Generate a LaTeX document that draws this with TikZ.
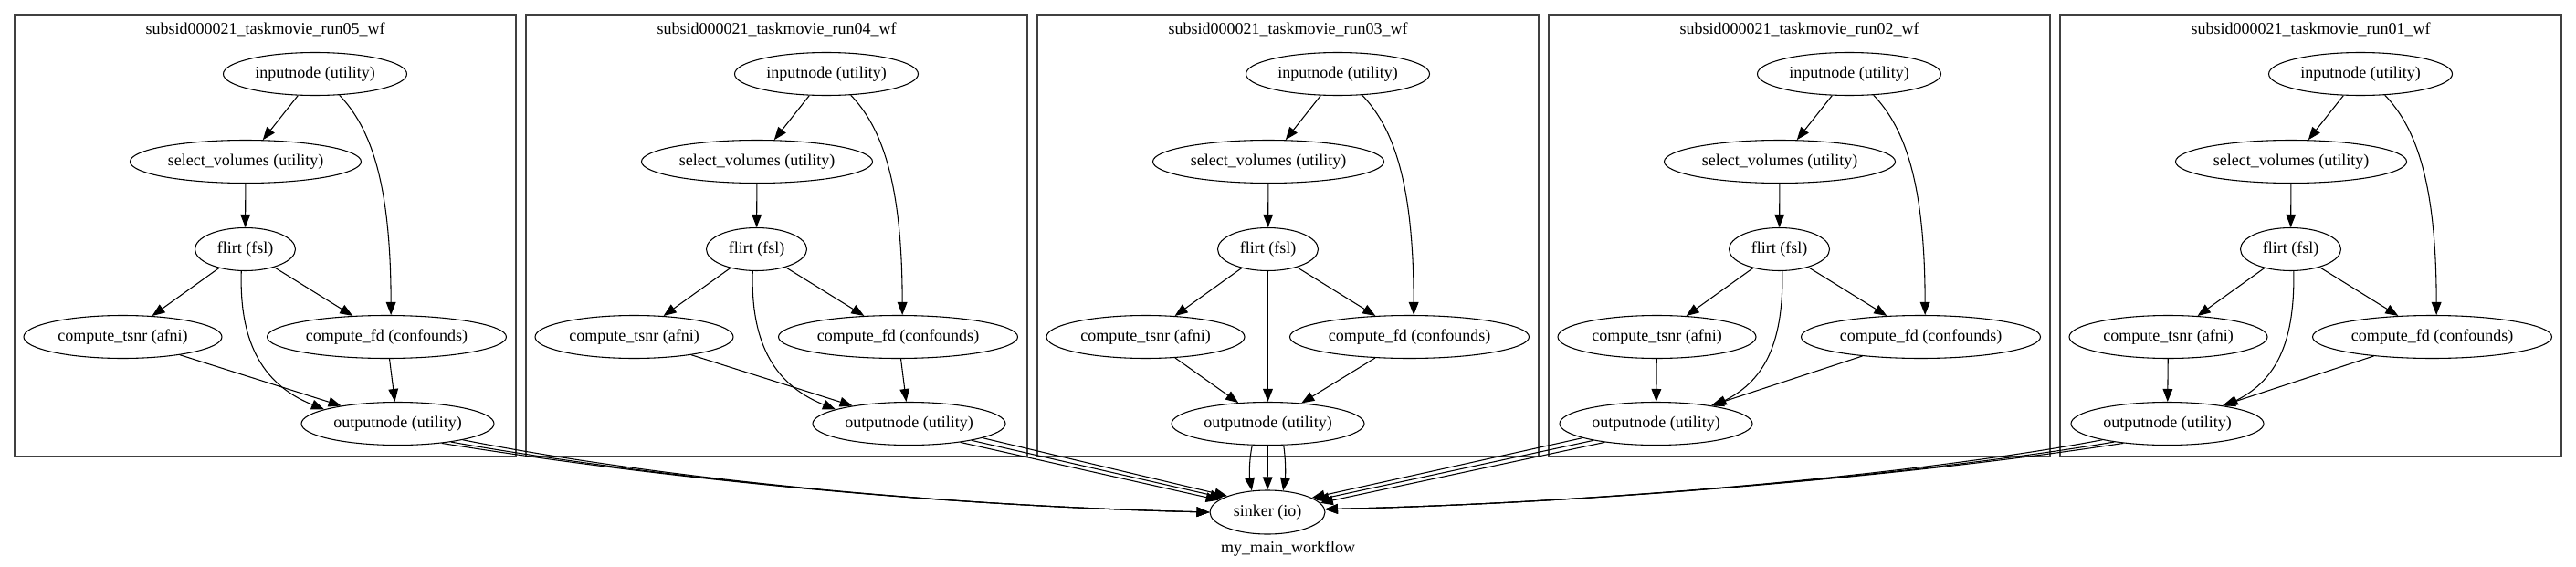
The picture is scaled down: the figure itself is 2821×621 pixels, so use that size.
\documentclass[tikz,border=0pt]{standalone}
\usepackage{fontspec}
\setmainfont{Liberation Serif}
\usetikzlibrary{shapes.geometric,arrows.meta}
\newcommand\gvfont{\fontsize{13.5}{16}\selectfont}
\tikzset{
  gv/.style={ellipse, draw, line width=0.8pt, inner sep=0pt, minimum height=35.25pt, font=\gvfont},
  gvedge/.style={draw, line width=0.8pt, -{Triangle[length=10.5pt,width=8pt]}},
  cbox/.style={rectangle, draw=black!75, line width=0.9pt, inner sep=0pt, minimum width=411.75pt, minimum height=362.625pt},
  ctitle/.style={font=\gvfont, inner sep=0pt},
}
\newcommand\wfcluster[5]{%
  \begin{scope}[shift={(#2,0)}]
    \node[cbox] (#1box) at (274.5,257.75) {};
    \node[ctitle] (#1title) at (274.5,32) {subsid000021\_taskmovie\_#3\_wf};
    \node[gv, minimum width=150.75pt] (#1in) at (329,81) {inputnode (utility)};
    \node[gv, minimum width=189.75pt] (#1sel) at (253,177) {select\_volumes (utility)};
    \node[gv, minimum width=82.5pt] (#1fl) at (252.5,273) {flirt (fsl)};
    \node[gv, minimum width=162.75pt] (#1ts) at (118.5,369) {compute\_tsnr (afni)};
    \node[gv, minimum width=196.5pt] (#1fd) at (407.5,369) {compute\_fd (confounds)};
    \node[gv, minimum width=158.25pt] (#1out) at (#4,464) {outputnode (utility)};
    \draw[gvedge] (#1in) -- (#1sel);
    \draw[gvedge] (#1in.-41) .. controls (390,140) and (412,200) .. (#1fd.79);
    \draw[gvedge] (#1sel) -- (#1fl);
    \draw[gvedge] (#1fl) -- (#1ts);
    \draw[gvedge] (#1fl) -- (#1fd);
    #5
  \end{scope}}
\begin{document}
\begin{tikzpicture}[x=0.75pt, y=-0.75pt]
\useasboundingbox (0,0) rectangle (2821,621);

\wfcluster{r5}{16}{run05}{419.5}{%
  \draw[gvedge] (r5ts) -- (r5out);
  \draw[gvedge] (r5fd) -- (r5out);
  \draw[gvedge] (r5fl.-100) .. controls (246,370) and (268,420) .. (r5out.169);}
\wfcluster{r4}{576}{run04}{419.5}{%
  \draw[gvedge] (r4ts) -- (r4out);
  \draw[gvedge] (r4fd) -- (r4out);
  \draw[gvedge] (r4fl.-100) .. controls (246,370) and (268,420) .. (r4out.169);}
\wfcluster{r3}{1136}{run03}{252.5}{%
  \draw[gvedge] (r3ts) -- (r3out);
  \draw[gvedge] (r3fl) -- (r3out);
  \draw[gvedge] (r3fd) -- (r3out);}
\wfcluster{r2}{1696}{run02}{117.5}{%
  \draw[gvedge] (r2ts) -- (r2out);
  \draw[gvedge] (r2fd) -- (r2out);
  \draw[gvedge] (r2fl.-82) .. controls (257,370) and (240,415) .. (r2out.17);}
\wfcluster{r1}{2256}{run01}{117.5}{%
  \draw[gvedge] (r1ts) -- (r1out);
  \draw[gvedge] (r1fd) -- (r1out);
  \draw[gvedge] (r1fl.-82) .. controls (257,370) and (240,415) .. (r1out.17);}

\node[gv, minimum width=94.5pt, minimum height=36pt] (sink) at (1388,561) {sinker (io)};
\node[ctitle] (glabel) at (1410.5,601.5) {my\_main\_workflow};

% run05 -> sinker
\draw[gvedge] (r5out.-14) .. controls (700,520) and (1000,553) .. (sink.west);
\draw[gvedge] (r5out.-19) .. controls (700,520) and (1000,553) .. (sink.west);
\draw[gvedge] (r5out.-24) .. controls (700,520) and (1000,553) .. (sink.west);
% run04 -> sinker
\draw[gvedge] (r4out.-11) -- (sink.158);
\draw[gvedge] (r4out.-15) -- (sink.162);
\draw[gvedge] (r4out.-20) -- (sink.166);
% run03 -> sinker
\draw[gvedge] (r3out.-126) .. controls (1368,503) and (1368,520) .. (sink.126);
\draw[gvedge] (r3out) -- (sink);
\draw[gvedge] (r3out.-54) .. controls (1408,503) and (1408,520) .. (sink.54);
% run02 -> sinker
\draw[gvedge] (r2out.-169) -- (sink.18);
\draw[gvedge] (r2out.-165) -- (sink.14);
\draw[gvedge] (r2out.-160) -- (sink.10);
% run01 -> sinker
\draw[gvedge] (r1out.-166) .. controls (2100,520) and (1750,551) .. (sink.3);
\draw[gvedge] (r1out.-161) .. controls (2100,520) and (1750,551) .. (sink.3);
\draw[gvedge] (r1out.-156) .. controls (2100,520) and (1750,551) .. (sink.3);
\end{tikzpicture}
\end{document}
